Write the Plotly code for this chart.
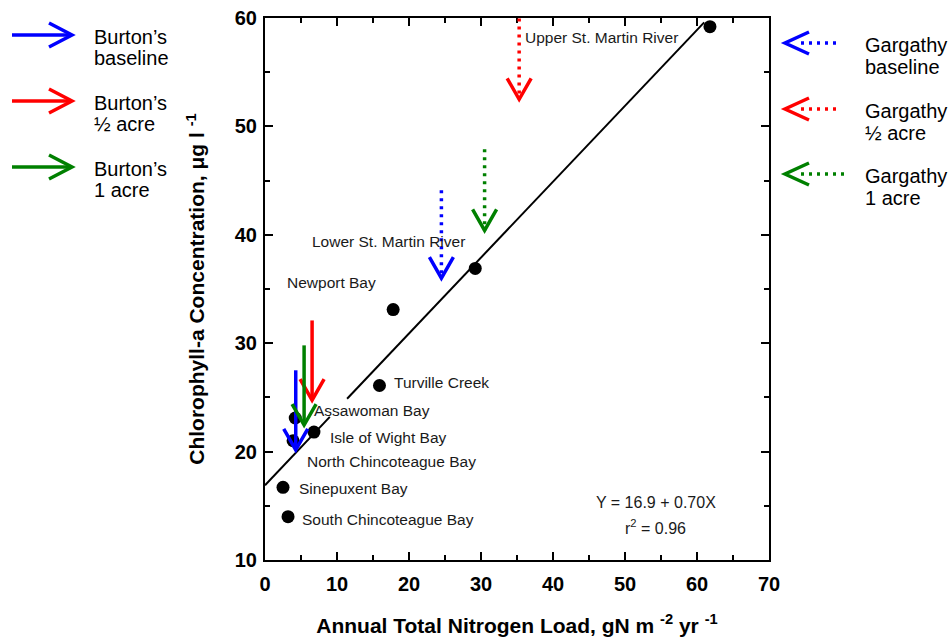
import plotly.graph_objects as go

# --- Coastal bay data: annual TN load vs. chlorophyll-a -------------------
sites = [
    "Upper St. Martin River", "Lower St. Martin River", "Newport Bay",
    "Turville Creek", "Assawoman Bay", "Isle of Wight Bay",
    "North Chincoteague Bay", "Sinepuxent Bay", "South Chincoteague Bay",
]
nitrogen_load = [61.8, 29.2, 17.8, 15.9, 4.2, 6.8, 3.9, 2.5, 3.2]
chlorophyll_a = [59.2, 36.9, 33.1, 26.1, 23.1, 21.8, 21.0, 16.7, 14.0]

# label offsets from each point, in pixels (x right, y up)
label_dx = [-187, -165, -108, 13, 17, 14, 12, 14, 12]
label_dy = [-11, 27, 27, 3, 8, -5, -21, -1, -3]

# regression fit
intercept = 16.9
slope = 0.70
r_squared = 0.96
fit_x = [0.0, 9.0, None, 11.4, 61.0]

# scenario arrows: x position, start and end concentration
burton_names = ["baseline", "½ acre", "1 acre"]
burton_colors = ["blue", "red", "green"]
burton_x = [4.27, 6.54, 5.43]
burton_from = [27.5, 32.1, 29.8]
burton_to = [20.15, 24.75, 22.45]

gargathy_names = ["baseline", "½ acre", "1 acre"]
gargathy_colors = ["blue", "red", "green"]
gargathy_x = [24.5, 35.3, 30.5]
gargathy_from = [44.1, 60.7, 47.9]
gargathy_to = [36.0, 52.5, 40.4]

# --- Page geometry ----------------------------------------------------------
FIG_W, FIG_H = 950, 642
M_L, M_R, M_T, M_B = 265, 181, 18, 82
PLOT_W = FIG_W - M_L - M_R
PLOT_H = FIG_H - M_T - M_B


def paper(px, py):
    """Page pixel position -> paper coordinates."""
    return (px - M_L) / PLOT_W, (FIG_H - M_B - py) / PLOT_H


TEXT_FONT = "Liberation Sans, Arial, Helvetica, sans-serif"

fig = go.Figure()

fit_y = [None if v is None else intercept + slope * v for v in fit_x]
fig.add_trace(go.Scatter(
    x=fit_x, y=fit_y, mode="lines",
    line=dict(color="black", width=2), connectgaps=False,
    hoverinfo="skip", showlegend=False,
))

fig.add_trace(go.Scatter(
    x=nitrogen_load, y=chlorophyll_a, mode="markers",
    marker=dict(color="black", size=13),
    text=sites, hoverinfo="text", showlegend=False,
))

annotations = []
shapes = []

for name, x, y, dx, dy in zip(sites, nitrogen_load, chlorophyll_a, label_dx, label_dy):
    annotations.append(dict(
        x=x, y=y, xref="x", yref="y", text=name, showarrow=False,
        xanchor="left", yanchor="middle", xshift=dx, yshift=dy,
        font=dict(family=TEXT_FONT, size=15.5, color="#1a1a1a"),
    ))

eq_x = 54.3
annotations.append(dict(
    x=eq_x, y=15.35, xref="x", yref="y", showarrow=False,
    text=f"Y = {intercept:.1f} + {slope:.2f}X",
    font=dict(family=TEXT_FONT, size=16, color="#1a1a1a"),
))
annotations.append(dict(
    x=eq_x, y=13.0, xref="x", yref="y", showarrow=False,
    text=f"r<sup>2</sup> = {r_squared:.2f}",
    font=dict(family=TEXT_FONT, size=16, color="#1a1a1a"),
))

ARROW_W = 3.5
DOWN_HEAD = "M -12,21 L 0,0 L 12,21"

# Burton scenario arrows (solid)
for x, y0, y1, c in zip(burton_x, burton_from, burton_to, burton_colors):
    shapes.append(dict(type="line", xref="x", yref="y", x0=x, x1=x, y0=y0, y1=y1,
                       line=dict(color=c, width=ARROW_W)))
    shapes.append(dict(type="path", xref="x", yref="y", xsizemode="pixel", ysizemode="pixel",
                       xanchor=x, yanchor=y1, path=DOWN_HEAD,
                       line=dict(color=c, width=ARROW_W)))

# Gargathy scenario arrows (dotted)
for x, y0, y1, c in zip(gargathy_x, gargathy_from, gargathy_to, gargathy_colors):
    shapes.append(dict(type="line", xref="x", yref="y", x0=x, x1=x, y0=y0, y1=y1,
                       line=dict(color=c, width=3.5, dash="3px,5px")))
    shapes.append(dict(type="path", xref="x", yref="y", xsizemode="pixel", ysizemode="pixel",
                       xanchor=x, yanchor=y1, path=DOWN_HEAD,
                       line=dict(color=c, width=ARROW_W)))

# Key on the left: Burton's (solid arrows pointing right)
left_rows = [35, 101, 167]
for row_y, name, c in zip(left_rows, burton_names, burton_colors):
    x0, y = paper(12, row_y)
    x1, _ = paper(72, row_y)
    shapes.append(dict(type="line", xref="paper", yref="paper", x0=x0, x1=x1, y0=y, y1=y,
                       line=dict(color=c, width=ARROW_W)))
    shapes.append(dict(type="path", xref="paper", yref="paper", xsizemode="pixel",
                       ysizemode="pixel", xanchor=x1, yanchor=y,
                       path="M -23,12 L 0,0 L -23,-12", line=dict(color=c, width=ARROW_W)))
    for k, line_text in enumerate(["Burton’s", name]):
        tx, ty = paper(92, row_y + 2 + 21 * k)
        annotations.append(dict(x=tx, y=ty, xref="paper", yref="paper", text=line_text,
                                showarrow=False, xanchor="left", yanchor="middle",
                                font=dict(family=TEXT_FONT, size=20, color="black")))

# Key on the right: Gargathy (dotted arrows pointing left)
right_rows = [43, 109, 174]
right_tail = [837, 837, 846]
for row_y, tail, name, c in zip(right_rows, right_tail, gargathy_names, gargathy_colors):
    xt, y = paper(785, row_y)
    xd0, _ = paper(801, row_y)
    xd1, _ = paper(tail + 2, row_y)
    shapes.append(dict(type="line", xref="paper", yref="paper", x0=xd0, x1=xd1, y0=y, y1=y,
                       line=dict(color=c, width=3.5, dash="3px,5px")))
    shapes.append(dict(type="path", xref="paper", yref="paper", xsizemode="pixel",
                       ysizemode="pixel", xanchor=xt, yanchor=y,
                       path="M 24,11 L 0,0 L 24,-11", line=dict(color=c, width=ARROW_W)))
    for k, line_text in enumerate(["Gargathy", name]):
        tx, ty = paper(863, row_y + 2 + 22 * k)
        annotations.append(dict(x=tx, y=ty, xref="paper", yref="paper", text=line_text,
                                showarrow=False, xanchor="left", yanchor="middle",
                                font=dict(family=TEXT_FONT, size=20, color="black")))

axis_common = dict(
    showgrid=False, zeroline=False, showline=True, linecolor="black", linewidth=2,
    mirror="allticks", ticks="inside", ticklen=8, tickwidth=2, tickcolor="black",
    tickfont=dict(family=TEXT_FONT, size=20, color="black", weight="bold"),
    minor=dict(ticks="inside", ticklen=5, tickwidth=1.5, tickcolor="black", dtick=5),
)

fig.update_xaxes(
    range=[0, 70], tick0=0, dtick=10, ticklabelstandoff=5,
    title=dict(text="Annual Total Nitrogen Load, gN m <sup>-2</sup> yr <sup>-1</sup>",
               font=dict(family=TEXT_FONT, size=21, color="black", weight="bold"),
               standoff=24),
    **axis_common,
)
fig.update_yaxes(
    range=[10, 60], tick0=10, dtick=10, ticklabelstandoff=2,
    title=dict(text="Chlorophyll-a Concentration, μg l <sup>-1</sup>",
               font=dict(family=TEXT_FONT, size=21, color="black", weight="bold"),
               standoff=24),
    **axis_common,
)

fig.update_layout(
    width=FIG_W, height=FIG_H,
    margin=dict(l=M_L, r=M_R, t=M_T, b=M_B, autoexpand=False),
    paper_bgcolor="white", plot_bgcolor="white",
    annotations=annotations, shapes=shapes,
    showlegend=False,
)

fig.write_html("out.html")
